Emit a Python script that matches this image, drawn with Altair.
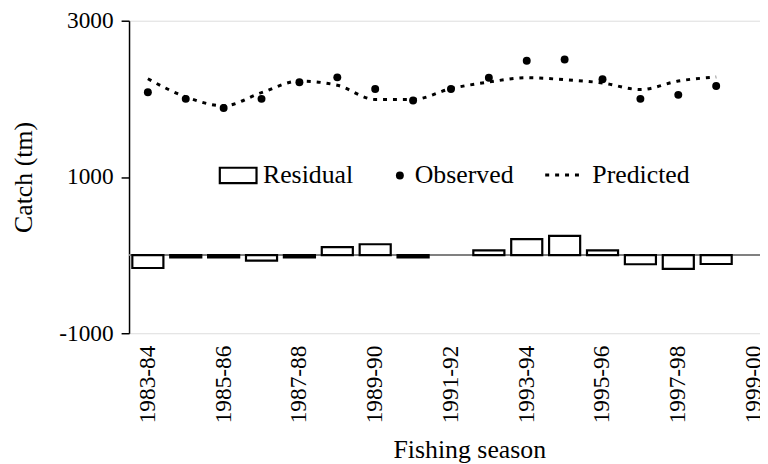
import altair as alt
import pandas as pd

seasons = ["1983-84", "1984-85", "1985-86", "1986-87", "1987-88", "1988-89",
           "1989-90", "1990-91", "1991-92", "1992-93", "1993-94", "1994-95",
           "1995-96", "1996-97", "1997-98", "1998-99", "1999-00"]
tick_labels = ["1983-84", "1985-86", "1987-88", "1989-90", "1991-92",
               "1993-94", "1995-96", "1997-98", "1999-00"]
observed = [2085, 2000, 1882, 2000, 2212, 2275, 2127, 1979, 2127, 2271,
            2487, 2504, 2250, 2000, 2051, 2165]
predicted = [2257, 2025, 1911, 2080, 2228, 2174, 1992, 1992, 2131, 2215,
             2271, 2245, 2203, 2119, 2228, 2279]
residual = [-165, -30, -30, -70, -30, 101, 139, -30, None, 60,
            205, 245, 60, -117, -177, -114]
y_ticks = [-1000, 1000, 3000]

n = len(observed)
df = pd.DataFrame({
    "season": seasons[:n],
    "observed": observed,
    "predicted": predicted,
    "residual": residual,
    "s_res": ["Residual"] * n,
    "s_obs": ["Observed"] * n,
    "s_pred": ["Predicted"] * n,
})

FONT = "Liberation Serif"

xscale = alt.Scale(domain=seasons, range=[0, 649], paddingInner=0.18, paddingOuter=0.087)
xenc = alt.X("season:N", scale=xscale,
             axis=alt.Axis(values=tick_labels, labelAngle=-90, ticks=False, domain=False,
                           labelPadding=12, labelFont=FONT, labelFontSize=23.5,
                           labelColor="black", title="Fishing season", titleFont=FONT,
                           titleFontSize=26, titleFontWeight="normal", titleColor="black",
                           titlePadding=14, titleX=343))
yscale = alt.Scale(domain=[-1000, 3000], nice=False, zero=False)
yaxis = alt.Axis(values=y_ticks, grid=False, tickSize=8, tickColor="black", tickWidth=1.5,
                 domainColor="black", domainWidth=1.5, labelFont=FONT, labelFontSize=23.5,
                 labelColor="black", labelPadding=8, labelExpr="'' + datum.value",
                 title="Catch (tm)", titleFont=FONT,
                 titleFontSize=26, titleFontWeight="normal", titleColor="black",
                 titlePadding=22)

base = alt.Chart(df)

zero = base.mark_rule(color="#808080", strokeWidth=1).encode(y=alt.datum(0, scale=yscale, axis=yaxis))

bars = base.mark_bar(fill="white", strokeWidth=2.2).encode(
    x=xenc,
    y=alt.Y("residual:Q", scale=yscale, axis=yaxis),
    stroke=alt.Stroke("s_res:N", scale=alt.Scale(domain=["Residual"], range=["black"]),
                      legend=alt.Legend(title=None, orient="none", legendX=90, legendY=136,
                                        symbolType="M-1,-0.42H1V0.42H-1Z", symbolSize=1369,
                                        symbolFillColor="white", symbolStrokeWidth=2.2,
                                        labelFont=FONT, labelFontSize=26, labelColor="black",
                                        labelOffset=5)),
)

line = base.mark_line(color="black", strokeWidth=3, interpolate="monotone").encode(
    x=alt.X("season:N", scale=xscale),
    y=alt.Y("predicted:Q", scale=yscale),
    strokeDash=alt.StrokeDash("s_pred:N", scale=alt.Scale(domain=["Predicted"], range=[[4, 6]]),
                              legend=alt.Legend(title=None, orient="none", legendX=418, legendY=134,
                                                symbolType="stroke", symbolSize=1600,
                                                symbolStrokeColor="black", symbolStrokeWidth=3,
                                                labelFont=FONT, labelFontSize=26,
                                                labelColor="black", labelOffset=6)),
)

points = base.mark_circle(size=64, opacity=1).encode(
    x=alt.X("season:N", scale=xscale),
    y=alt.Y("observed:Q", scale=yscale),
    fill=alt.Fill("s_obs:N", scale=alt.Scale(domain=["Observed"], range=["black"]),
                  legend=alt.Legend(title=None, orient="none", legendX=260, legendY=143,
                                    symbolType="circle", symbolSize=64, symbolOpacity=1,
                                    labelFont=FONT, labelFontSize=26, labelColor="black",
                                    labelOffset=2)),
)

chart = alt.layer(zero, bars, line, points).properties(
    width=636, height=315,
    padding={"left": 122, "top": 11, "right": 0, "bottom": 130},
    autosize="none",
).configure_view(stroke=None).configure(background="white")

chart.save("out.html", embed_options={"renderer": "svg", "actions": False})
